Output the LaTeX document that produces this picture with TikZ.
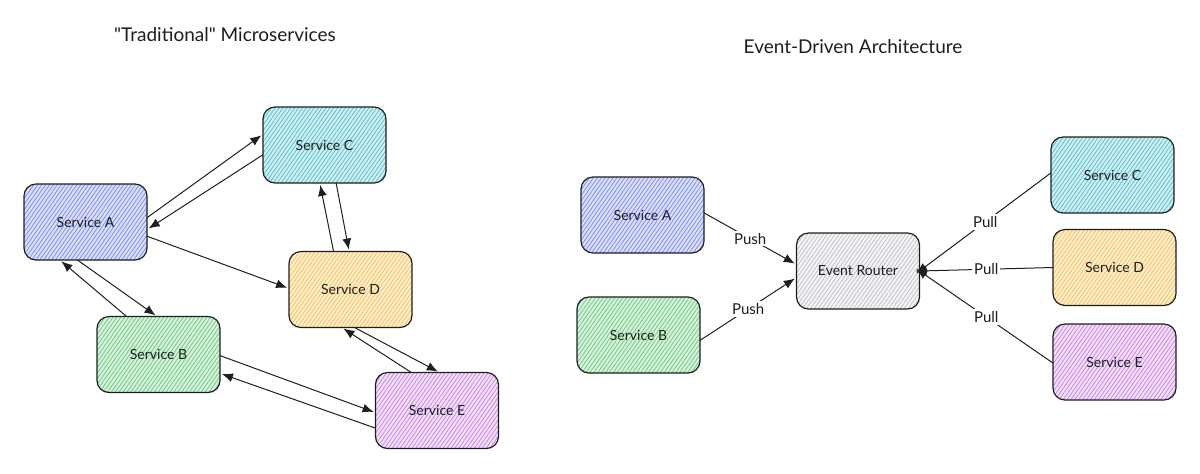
\documentclass[tikz,border=0pt]{standalone}
\usepackage{fontspec}
\setmainfont{Lato}[Ligatures=TeXOff]
\usetikzlibrary{arrows.meta,patterns.meta}
\definecolor{ink}{RGB}{30,30,30}
\definecolor{Aline}{RGB}{125,140,238}\definecolor{Atint}{RGB}{218,223,252}
\definecolor{Cline}{RGB}{85,192,207}\definecolor{Ctint}{RGB}{208,239,243}
\definecolor{Dline}{RGB}{250,192,85}\definecolor{Dtint}{RGB}{254,239,208}
\definecolor{Bline}{RGB}{110,202,130}\definecolor{Btint}{RGB}{215,241,220}
\definecolor{Eline}{RGB}{202,130,232}\definecolor{Etint}{RGB}{243,224,250}
\definecolor{Rline}{RGB}{192,192,198}\definecolor{Rtint}{RGB}{245,245,247}
\tikzset{
  svc/.style={draw=ink, line width=0.6pt, rounded corners=6pt,
    minimum width=61.5pt, minimum height=38pt, inner sep=0pt, outer sep=0pt,
    text=ink, font=\fontsize{7}{8}\selectfont},
  hatch/.style 2 args={preaction={fill=#1},
    pattern={Lines[angle=55,distance=1.6pt,line width=0.38pt]}, pattern color=#2},
  conn/.style={-{Latex[length=5.5pt,width=4.5pt]}, line width=0.5pt, draw=ink, shorten >=1pt},
  lbl/.style={fill=white, inner sep=1pt, text=ink, font=\fontsize{7.5}{8}\selectfont},
  ttl/.style={text=ink, font=\fontsize{9.5}{11}\selectfont}
}
\begin{document}
\begin{tikzpicture}[x=0.5pt,y=-0.5pt]
\useasboundingbox (0,0) rectangle (1200,473);
% titles
\node[ttl] (t1) at (225,35) {"Traditional" Microservices};
\node[ttl] (t2) at (853,47) {Event-Driven Architecture};
% left diagram
\node[svc, hatch={Atint}{Aline}] (LA) at (85.5,222) {Service A};
\node[svc, hatch={Ctint}{Cline}] (LC) at (324.5,145) {Service C};
\node[svc, hatch={Dtint}{Dline}] (LD) at (350.5,289.5) {Service D};
\node[svc, hatch={Btint}{Bline}] (LB) at (158.5,354.5) {Service B};
\node[svc, hatch={Etint}{Eline}] (LE) at (437,410.5) {Service E};
\draw[conn] (LA.4) -- (LC.170);
\draw[conn] (LC.189) -- (LA.353);
\draw[conn] (LA.347) -- (LD.179);
\draw[conn] (LD.114) -- (LC.263);
\draw[conn] (LC.287) -- (LD.92);
\draw[conn] (LA.258) -- (LB.92);
\draw[conn] (LB.130) -- (LA.236);
\draw[conn] (LD.276) -- (LE.86);
\draw[conn] (LE.124) -- (LD.257);
\draw[conn] (LB.359) -- (LE.182);
\draw[conn] (LE.196) -- (LB.343);
% right diagram
\node[svc, hatch={Atint}{Aline}] (RA) at (642.5,215) {Service A};
\node[svc, hatch={Btint}{Bline}] (RB) at (638.5,335) {Service B};
\node[svc, hatch={Rtint}{Rline}] (RR) at (858,271) {Event Router};
\node[svc, hatch={Ctint}{Cline}] (RC) at (1112.5,175) {Service C};
\node[svc, hatch={Dtint}{Dline}] (RD) at (1114.5,267.5) {Service D};
\node[svc, hatch={Etint}{Eline}] (RE) at (1114.5,362) {Service E};
\draw[conn] (RA.2) -- node[lbl] (p1) {Push} (RR.174);
\draw[conn] (RB.355) -- node[lbl] (p2) {Push} (RR.186);
\draw[conn, shorten >=-2pt] (RC.178) -- node[lbl] (q1) {Pull} (RR.east);
\draw[conn, shorten >=-2pt] (RD.west) -- node[lbl] (q2) {Pull} (RR.east);
\draw[conn, shorten >=-2pt] (RE.181) -- node[lbl] (q3) {Pull} (RR.east);
\end{tikzpicture}
\end{document}
